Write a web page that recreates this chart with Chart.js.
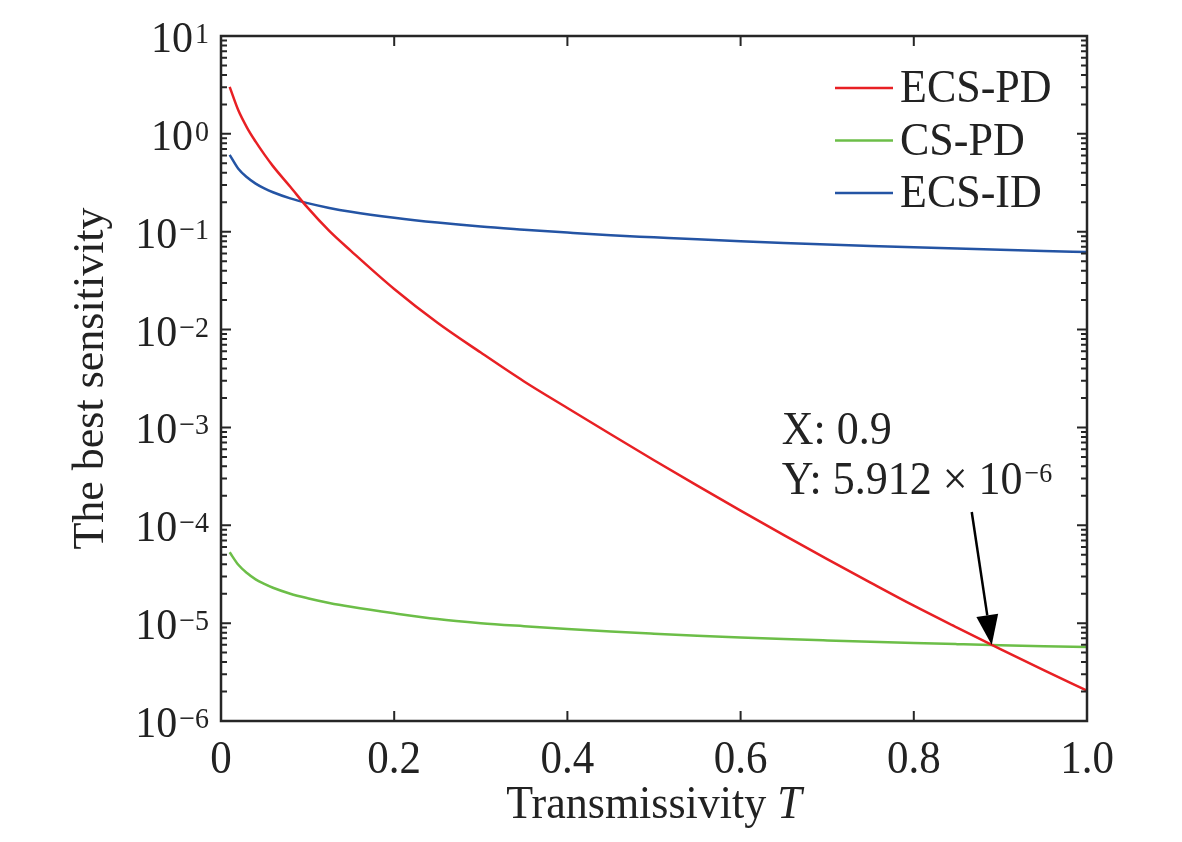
<!DOCTYPE html>
<html lang="en">
<head>
    <meta charset="UTF-8">
    <title>The best sensitivity vs transmissivity</title>
    <script src="https://cdn.jsdelivr.net/npm/chart.js"></script>
    <style>
        body { margin: 0; background: #fff; }
    </style>
</head>
<body>
    <canvas id="sensChart" width="1182" height="842"></canvas>

    <script>
        // values
        const transmissivity = [0.01, 0.02, 0.03, 0.04, 0.05, 0.06, 0.08, 0.1, 0.125, 0.15, 0.2, 0.25, 0.3, 0.35,
            0.4, 0.45, 0.5, 0.55, 0.6, 0.65, 0.7, 0.75, 0.8, 0.85, 0.9, 0.95, 1.0];
        const ecsPd = [3.02, 1.74, 1.16, 0.832, 0.617, 0.468, 0.288, 0.176, 0.102, 0.0638, 0.026, 0.01175, 5.82e-3, 2.95e-3,
            1.58e-3, 8.51e-4, 4.62e-4, 2.54e-4, 1.41e-4, 7.94e-5, 4.52e-5, 2.6e-5, 1.51e-5, 9.02e-6, 5.43e-6, 3.31e-6, 2.04e-6];
        const csPd = [5.3e-5, 3.95e-5, 3.25e-5, 2.8e-5, 2.52e-5, 2.3e-5, 2.0e-5, 1.8e-5, 1.61e-5, 1.47e-5, 1.26e-5, 1.1e-5, 1.0e-5, 9.3e-6,
            8.7e-6, 8.2e-6, 7.8e-6, 7.45e-6, 7.15e-6, 6.88e-6, 6.65e-6, 6.44e-6, 6.26e-6, 6.1e-6, 5.95e-6, 5.82e-6, 5.7e-6];
        const ecsId = [0.61, 0.44, 0.36, 0.31, 0.277, 0.253, 0.219, 0.196, 0.175, 0.16, 0.139, 0.124, 0.113, 0.105,
            0.098, 0.092, 0.0877, 0.0836, 0.08, 0.0769, 0.0741, 0.0716, 0.0693, 0.0672, 0.0654, 0.0636, 0.062];

        const seriesNames = ['ECS-PD', 'CS-PD', 'ECS-ID'];
        const xTickValues = [0, 0.2, 0.4, 0.6, 0.8, 1.0];
        const xTickLabels = ['0', '0.2', '0.4', '0.6', '0.8', '1.0'];
        const yExponents = [1, 0, -1, -2, -3, -4, -5, -6];

        // data tip on the crossing point
        const tipX = 0.89;
        const tipY = 5.98e-6;
        const tipLines = ['X: 0.9', 'Y: 5.912 \u00d7 10'];
        const tipExp = '\u22126';

        const SERIF = '"Liberation Serif", "Times New Roman", serif';
        const INK = '#222';
        const STRETCH = 1.07; // glyphs in the figure are a bit taller than wide

        function toPoints(ys) {
            return transmissivity.map((t, i) => ({ x: t, y: ys[i] }));
        }

        function tallText(ctx, text, x, y) {
            ctx.save();
            ctx.translate(x, y);
            ctx.scale(1, STRETCH);
            ctx.fillText(text, 0, 0);
            ctx.restore();
        }

        // axes box, inward ticks, labels, legend and the data tip
        const figureDecor = {
            id: 'figureDecor',
            afterDatasetsDraw(chart) {
                const { ctx, chartArea: a, scales: { x, y } } = chart;
                ctx.save();

                // box
                ctx.strokeStyle = '#262626';
                ctx.lineWidth = 2.5;
                ctx.strokeRect(a.left, a.top, a.right - a.left, a.bottom - a.top);

                // x ticks (top and bottom)
                ctx.lineWidth = 2;
                ctx.beginPath();
                xTickValues.forEach(v => {
                    const px = x.getPixelForValue(v);
                    ctx.moveTo(px, a.bottom); ctx.lineTo(px, a.bottom - 10);
                    ctx.moveTo(px, a.top); ctx.lineTo(px, a.top + 10);
                });
                // y ticks, decades and 2..9 minors, both sides
                yExponents.forEach(e => {
                    for (let m = 1; m <= 9; m++) {
                        const v = m * Math.pow(10, e);
                        if (v > 10 || v < 1e-6) continue;
                        const py = y.getPixelForValue(v);
                        const len = m === 1 ? 10 : 6;
                        ctx.moveTo(a.left, py); ctx.lineTo(a.left + len, py);
                        ctx.moveTo(a.right, py); ctx.lineTo(a.right - len, py);
                    }
                });
                ctx.stroke();

                ctx.fillStyle = INK;
                ctx.textAlign = 'left';
                ctx.textBaseline = 'alphabetic';

                // y tick labels 10^n
                yExponents.forEach(e => {
                    const py = y.getPixelForValue(Math.pow(10, e));
                    const expStr = e < 0 ? '\u2212' + (-e) : String(e);
                    ctx.font = '28px ' + SERIF;
                    const expW = ctx.measureText(expStr).width;
                    ctx.font = '42px ' + SERIF;
                    const tenW = ctx.measureText('10').width;
                    const right = a.left - 12;
                    tallText(ctx, '10', right - expW - 2 - tenW, py + 16);
                    ctx.font = '28px ' + SERIF;
                    tallText(ctx, expStr, right - expW, py + 7);
                });

                // x tick labels
                ctx.font = '43px ' + SERIF;
                ctx.textAlign = 'center';
                xTickValues.forEach((v, i) => {
                    tallText(ctx, xTickLabels[i], x.getPixelForValue(v), a.bottom + 52);
                });

                // x title with italic T
                ctx.textAlign = 'left';
                ctx.font = '44px ' + SERIF;
                const part1 = 'Transmissivity ';
                const w1 = ctx.measureText(part1).width;
                ctx.font = 'italic 44px ' + SERIF;
                const w2 = ctx.measureText('T').width;
                const xStart = (a.left + a.right) / 2 - (w1 + w2) / 2;
                ctx.font = '44px ' + SERIF;
                tallText(ctx, part1, xStart, a.bottom + 97);
                ctx.font = 'italic 44px ' + SERIF;
                tallText(ctx, 'T', xStart + w1, a.bottom + 97);

                // y title
                ctx.save();
                ctx.translate(a.left - 118, (a.top + a.bottom) / 2);
                ctx.rotate(-Math.PI / 2);
                ctx.textAlign = 'center';
                ctx.font = '44px ' + SERIF;
                ctx.fillText('The best sensitivity', 0, 0);
                ctx.restore();

                // legend
                chart.data.datasets.forEach((ds, i) => {
                    const ly = a.top + 52 + i * 52.5;
                    ctx.strokeStyle = ds.borderColor;
                    ctx.lineWidth = 2.5;
                    ctx.beginPath();
                    ctx.moveTo(a.right - 252, ly);
                    ctx.lineTo(a.right - 194, ly);
                    ctx.stroke();
                    ctx.fillStyle = INK;
                    ctx.font = '44px ' + SERIF;
                    ctx.textAlign = 'left';
                    tallText(ctx, ds.label, a.right - 187, ly + 14);
                });

                // data tip arrow
                const tx = x.getPixelForValue(tipX);
                const ty = y.getPixelForValue(tipY);
                const sx = tx - 20, sy = ty - 133;
                const ang = Math.atan2(ty - sy, tx - sx);
                const headLen = 30, headHalf = 11;
                const bx = tx - headLen * Math.cos(ang), by = ty - headLen * Math.sin(ang);
                ctx.strokeStyle = '#000';
                ctx.fillStyle = '#000';
                ctx.lineWidth = 2.5;
                ctx.beginPath();
                ctx.moveTo(sx, sy);
                ctx.lineTo(bx, by);
                ctx.stroke();
                ctx.beginPath();
                ctx.moveTo(tx, ty);
                ctx.lineTo(bx + headHalf * Math.sin(ang), by - headHalf * Math.cos(ang));
                ctx.lineTo(bx - headHalf * Math.sin(ang), by + headHalf * Math.cos(ang));
                ctx.closePath();
                ctx.fill();

                // data tip text
                ctx.fillStyle = INK;
                ctx.font = '44px ' + SERIF;
                const textX = tx - 210;
                tallText(ctx, tipLines[0], textX, ty - 201);
                tallText(ctx, tipLines[1], textX, ty - 151);
                const lw = ctx.measureText(tipLines[1]).width;
                ctx.font = '26px ' + SERIF;
                tallText(ctx, tipExp, textX + lw + 2, ty - 163);

                ctx.restore();
            }
        };

        const ctx = document.getElementById('sensChart').getContext('2d');
        new Chart(ctx, {
            type: 'line',
            data: {
                datasets: [{
                    label: seriesNames[0],
                    data: toPoints(ecsPd),
                    borderColor: 'rgb(232, 32, 36)',
                    borderWidth: 2.5,
                    pointRadius: 0,
                    cubicInterpolationMode: 'monotone',
                    fill: false
                }, {
                    label: seriesNames[1],
                    data: toPoints(csPd),
                    borderColor: 'rgb(108, 190, 72)',
                    borderWidth: 2.5,
                    pointRadius: 0,
                    cubicInterpolationMode: 'monotone',
                    fill: false
                }, {
                    label: seriesNames[2],
                    data: toPoints(ecsId),
                    borderColor: 'rgb(36, 84, 164)',
                    borderWidth: 2.5,
                    pointRadius: 0,
                    cubicInterpolationMode: 'monotone',
                    fill: false
                }]
            },
            options: {
                responsive: false,
                devicePixelRatio: 1,
                animation: false,
                events: [],
                layout: { padding: { left: 221, top: 36, right: 95, bottom: 121 } },
                plugins: {
                    legend: { display: false },
                    tooltip: { enabled: false }
                },
                scales: {
                    x: { type: 'linear', min: 0, max: 1, display: false },
                    y: { type: 'logarithmic', min: 1e-6, max: 10, display: false }
                }
            },
            plugins: [figureDecor]
        });
    </script>
</body>
</html>
